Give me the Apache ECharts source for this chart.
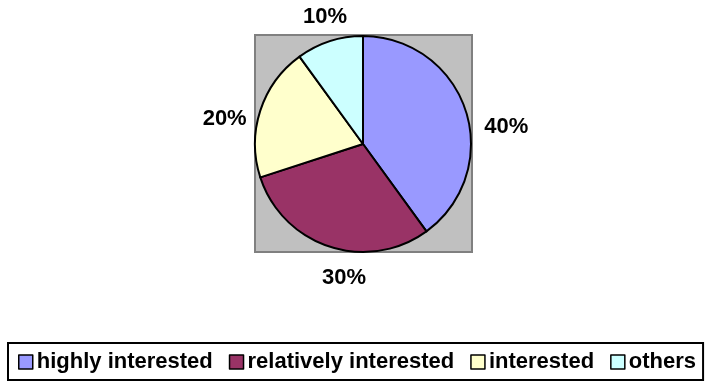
<!DOCTYPE html>
<html>
<head>
<meta charset="utf-8">
<script src="https://cdn.jsdelivr.net/npm/echarts@6/dist/echarts.min.js"></script>
<style>
html,body{margin:0;padding:0;background:#fff;}
#c{width:707px;height:383px;}
</style>
</head>
<body>
<div id="c"></div>
<script>
const categories = ['highly interested', 'relatively interested', 'interested', 'others'];
const values = [40, 30, 20, 10];
const colors = ['#9999FF', '#993366', '#FFFFCC', '#CCFFFF'];
const labelShift = [[6, 19], [44, 24], [-1, 11], [25, -17]];

const chart = echarts.init(document.getElementById('c'), null, {renderer: 'canvas'});
chart.setOption({
  animation: false,
  backgroundColor: '#ffffff',
  graphic: [{
    type: 'rect',
    shape: {x: 255, y: 35, width: 217, height: 217},
    style: {fill: '#C0C0C0', stroke: '#808080', lineWidth: 2},
    z: -10
  }],
  legend: {
    data: categories,
    left: 8,
    top: 343,
    orient: 'horizontal',
    icon: 'rect',
    itemWidth: 14,
    itemHeight: 14,
    itemGap: 16,
    padding: [8, 7, 7, 10],
    borderColor: '#000',
    borderWidth: 2,
    borderRadius: 0,
    selectedMode: false,
    itemStyle: {borderColor: '#000', borderWidth: 1.5},
    textStyle: {fontFamily: 'Liberation Sans, Arial, sans-serif', fontWeight: 'bold', fontSize: 22, color: '#000', padding: [0, 0, 0, -1]}
  },
  series: [{
    type: 'pie',
    center: [363, 144],
    radius: 108,
    startAngle: 90,
    clockwise: true,
    data: categories.map((n, i) => ({name: n, value: values[i], itemStyle: {color: colors[i]}})),
    itemStyle: {borderColor: '#000', borderWidth: 2},
    label: {
      show: true,
      position: 'outside',
      formatter: p => p.value + '%',
      fontFamily: 'Liberation Sans, Arial, sans-serif',
      fontWeight: 'bold',
      fontSize: 22,
      color: '#000'
    },
    labelLine: {show: false, length: 8, length2: 0},
    labelLayout: p => ({dx: labelShift[p.dataIndex][0], dy: labelShift[p.dataIndex][1]}),
    emphasis: {disabled: true}
  }]
});
</script>
</body>
</html>
